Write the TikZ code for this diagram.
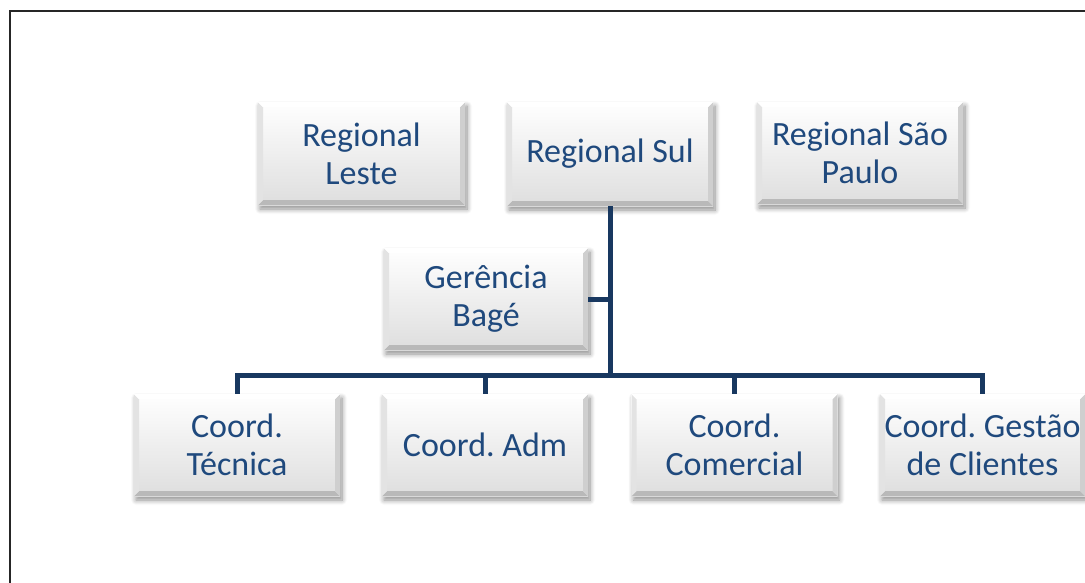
\documentclass[tikz,border=0pt]{standalone}
\usepackage{fontspec}
\setmainfont{Carlito}
\usetikzlibrary{shadows.blur}
\frenchspacing
\definecolor{boxtext}{RGB}{31,73,125}
\definecolor{linknavy}{RGB}{24,56,96}
\tikzset{
  orgbox/.style={
    rectangle, minimum width=206pt, minimum height=102pt, inner sep=0pt,
    align=center, text=boxtext, font=\fontsize{34}{38}\selectfont,
    top color=white, bottom color=gray!26,
    blur shadow={shadow xshift=2pt, shadow yshift=-4pt, shadow blur steps=8, shadow blur radius=5pt, shadow opacity=45},
    path picture={
      \coordinate (sw) at (path picture bounding box.south west);
      \coordinate (se) at (path picture bounding box.south east);
      \coordinate (nw) at (path picture bounding box.north west);
      \coordinate (ne) at (path picture bounding box.north east);
      % bevelled rim: light on top/left, dark on bottom/right
      \fill[gray!55] (sw) -- (se) -- ([shift={(-5pt,5pt)}]se) -- ([shift={(5pt,5pt)}]sw) -- cycle;
      \fill[gray!38] (se) -- (ne) -- ([shift={(-5pt,-5pt)}]ne) -- ([shift={(-5pt,5pt)}]se) -- cycle;
      \fill[gray!22] (sw) -- (nw) -- ([shift={(5pt,-5pt)}]nw) -- ([shift={(5pt,5pt)}]sw) -- cycle;
      \fill[white] (nw) -- (ne) -- ([shift={(-5pt,-5pt)}]ne) -- ([shift={(5pt,-5pt)}]nw) -- cycle;
    }
  },
  link/.style={draw=linknavy, line width=5pt}
}
\begin{document}
\begin{tikzpicture}[x=1pt,y=-1pt]
\useasboundingbox (0,0) rectangle (1085,582);
% frame
\draw[line width=2pt, black!85] (10,583) -- (10,11) -- (1086,11);

% top row
\node[orgbox, minimum width=207pt, minimum height=103pt] (leste) at (361.5,153.5) {Regional\\Leste};
\node[orgbox, minimum height=104pt] (sul) at (610,154) {Regional Sul};
\node[orgbox] (sp) at (860,153) {Regional São\\Paulo};

% management
\node[orgbox, minimum width=204pt] (bage) at (486,299) {Gerência\\Bagé};

% coordinations
\node[orgbox] (tec) at (237,445) {Coord.\\Técnica};
\node[orgbox] (adm) at (485,445) {Coord. Adm};
\node[orgbox] (com) at (734.5,445) {Coord.\\Comercial};
\node[orgbox, minimum width=205pt] (ges) at (982.5,445) {Coord. Gestão\\de Clientes};

% connectors
\coordinate (bus) at (610,375);
\draw[link] (sul.south) -- (bus);
\draw[link] (bage.east) -- (bage.east -| bus);
\draw[link] (tec.north) -- (tec.north |- bus) -- (ges.north |- bus) -- (ges.north);
\draw[link] (adm.north |- bus) -- (adm.north);
\draw[link] (com.north |- bus) -- (com.north);
\end{tikzpicture}
\end{document}
